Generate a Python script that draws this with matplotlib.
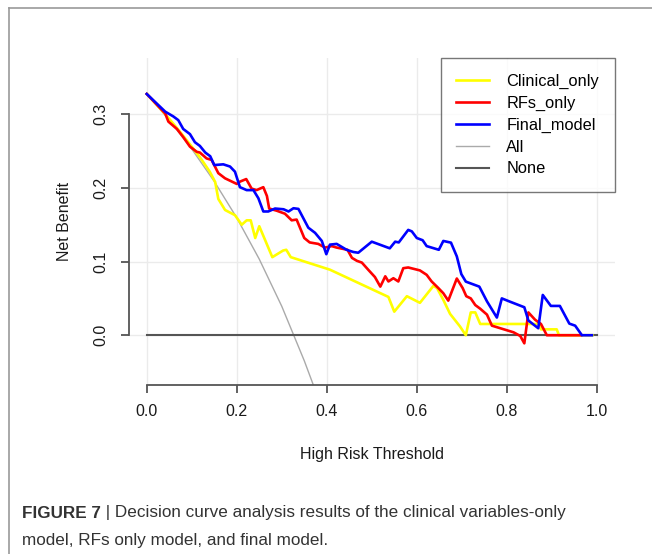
import matplotlib
matplotlib.use("Agg")
import matplotlib.pyplot as plt
from matplotlib.lines import Line2D

plt.rcParams['font.family'] = ['Liberation Sans', 'DejaVu Sans']

# threshold / net benefit
clin_x = [0, 0.04, 0.07, 0.1, 0.12, 0.14, 0.152, 0.159, 0.174, 0.196, 0.211, 0.222, 0.231,
          0.241, 0.25, 0.279, 0.303, 0.31, 0.32, 0.407, 0.537, 0.55, 0.578, 0.607, 0.637,
          0.645, 0.659, 0.674, 0.696, 0.709, 0.72, 0.73, 0.741, 0.874, 0.876, 0.911, 0.916, 0.99]
clin_y = [0.3275, 0.301, 0.279, 0.256, 0.240, 0.222, 0.208, 0.185, 0.170, 0.163, 0.150, 0.156, 0.156,
          0.132, 0.148, 0.106, 0.115, 0.116, 0.106, 0.089, 0.052, 0.032, 0.053, 0.044, 0.067,
          0.064, 0.048, 0.029, 0.012, 0.0, 0.031, 0.031, 0.0153, 0.0153, 0.008, 0.008, 0.0, 0.0]

rfs_x = [0, 0.041, 0.048, 0.067, 0.081, 0.096, 0.111, 0.118, 0.133, 0.144, 0.159, 0.174, 0.2,
         0.207, 0.221, 0.233, 0.244, 0.259, 0.267, 0.272, 0.289, 0.307, 0.322, 0.333, 0.35,
         0.362, 0.381, 0.396, 0.411, 0.422, 0.446, 0.456, 0.467, 0.478, 0.492, 0.507, 0.519,
         0.53, 0.537, 0.548, 0.559, 0.57, 0.581, 0.607, 0.622, 0.633, 0.648, 0.659, 0.67,
         0.689, 0.702, 0.71, 0.72, 0.73, 0.741, 0.756, 0.767, 0.815, 0.83, 0.839, 0.848,
         0.863, 0.876, 0.889, 0.965]
rfs_y = [0.3275, 0.301, 0.290, 0.280, 0.269, 0.256, 0.249, 0.248, 0.240, 0.238, 0.220, 0.213, 0.2054,
         0.2085, 0.212, 0.199, 0.197, 0.201, 0.189, 0.172, 0.169, 0.165, 0.156, 0.157, 0.132,
         0.126, 0.124, 0.119, 0.121, 0.119, 0.116, 0.105, 0.101, 0.0986, 0.089, 0.079, 0.066,
         0.080, 0.073, 0.0774, 0.073, 0.091, 0.092, 0.088, 0.082, 0.073, 0.064, 0.057, 0.047,
         0.077, 0.064, 0.053, 0.050, 0.041, 0.036, 0.028, 0.013, 0.004, -0.001, -0.011, 0.031,
         0.021, 0.0153, 0.0, 0.0]

fin_x = [0, 0.041, 0.059, 0.07, 0.081, 0.096, 0.107, 0.118, 0.13, 0.141, 0.150, 0.17, 0.185,
         0.196, 0.207, 0.222, 0.237, 0.248, 0.259, 0.27, 0.285, 0.304, 0.315, 0.326, 0.337,
         0.359, 0.374, 0.389, 0.399, 0.407, 0.422, 0.444, 0.459, 0.47, 0.5, 0.54, 0.552, 0.56,
         0.581, 0.589, 0.6, 0.613, 0.622, 0.649, 0.659, 0.676, 0.689, 0.699, 0.709, 0.739,
         0.756, 0.778, 0.789, 0.807, 0.839, 0.848, 0.87, 0.88, 0.898, 0.918, 0.939, 0.952,
         0.967, 0.989]
fin_y = [0.3275, 0.3035, 0.297, 0.292, 0.280, 0.273, 0.262, 0.257, 0.248, 0.243, 0.231, 0.232, 0.229,
         0.222, 0.201, 0.197, 0.197, 0.186, 0.168, 0.168, 0.172, 0.171, 0.168, 0.1724, 0.1715,
         0.146, 0.139, 0.128, 0.11, 0.123, 0.124, 0.116, 0.113, 0.112, 0.127, 0.118, 0.127, 0.126,
         0.143, 0.141, 0.132, 0.129, 0.121, 0.116, 0.128, 0.1257, 0.107, 0.083, 0.0728, 0.066,
         0.046, 0.024, 0.05, 0.0456, 0.038, 0.02, 0.0095, 0.0547, 0.0398, 0.0398, 0.0158, 0.013,
         0.0, 0.0]

all_x = [0, 0.05, 0.1, 0.15, 0.2, 0.25, 0.3, 0.35, 0.37]
all_y = [0.3275, 0.2921, 0.2528, 0.2088, 0.1594, 0.1033, 0.0393, -0.0346, -0.0673]

none_x = [0, 1]
none_y = [0, 0]

fig = plt.figure(figsize=(6.52, 5.54), dpi=100)
ax = fig.add_axes([0.1975, 0.3051, 0.7454, 0.5903])

ax.plot(clin_x, clin_y, color='#ffff00', lw=1.9, label='Clinical_only', zorder=3)
ax.plot(rfs_x, rfs_y, color='#ff0000', lw=1.9, label='RFs_only', zorder=4)
ax.plot(fin_x, fin_y, color='#0000ff', lw=1.9, label='Final_model', zorder=5)
ax.plot(all_x, all_y, color='#aaaaaa', lw=1.0, label='All', zorder=2)
ax.plot(none_x, none_y, color='#555555', lw=1.5, label='None', zorder=2)

ax.set_xlim(-0.04, 1.04)
ax.set_ylim(-0.0675, 0.3764)
ax.set_xticks([0, 0.2, 0.4, 0.6, 0.8, 1.0])
ax.set_xticklabels(['0.0', '0.2', '0.4', '0.6', '0.8', '1.0'])
ax.set_yticks([0, 0.1, 0.2, 0.3])
ax.set_yticklabels(['0.0', '0.1', '0.2', '0.3'], rotation=90, va='center')
ax.grid(True, color='#ebebeb', lw=1.0, zorder=0)

for s in ['top', 'right']:
    ax.spines[s].set_visible(False)
ax.spines['left'].set_bounds(0, 0.3)
ax.spines['bottom'].set_bounds(0, 1)
for s in ['left', 'bottom']:
    ax.spines[s].set_color('#555555')
    ax.spines[s].set_linewidth(1.3)
ax.tick_params(axis='both', colors='#555555', length=6, width=1.3, labelsize=11.5,
               labelcolor='#1a1a1a')
ax.tick_params(axis='x', pad=8)
ax.tick_params(axis='y', pad=9)

ax.set_xlabel('High Risk Threshold', fontsize=11.5, labelpad=20, color='#1a1a1a')
ax.set_ylabel('Net Benefit', fontsize=11.5, labelpad=15, color='#1a1a1a')

leg = ax.legend(loc='upper right', bbox_to_anchor=(1, 1), borderaxespad=0, fontsize=11.8,
                frameon=True, fancybox=False, edgecolor='#555555', handlelength=2.0,
                handletextpad=1.05, labelspacing=0.42, borderpad=0.95)
leg.get_frame().set_linewidth(1.0)

# page border lines
fig.add_artist(Line2D([9 / 652, 1], [1 - 8 / 554, 1 - 8 / 554], transform=fig.transFigure,
                      color='#999999', lw=1.2))
fig.add_artist(Line2D([9 / 652, 9 / 652], [0, 1 - 8 / 554], transform=fig.transFigure,
                      color='#999999', lw=1.2))

# caption
cap_size = 12.3
cap_bold = fig.text(22 / 652, 1 - 513 / 554, 'FIGURE 7', fontsize=cap_size, fontweight='bold',
                    color='#333333', va='center', ha='left')
fig.canvas.draw()
bb = cap_bold.get_window_extent(fig.canvas.get_renderer())
x2 = bb.x1 / fig.bbox.width
fig.text(x2, 1 - 513 / 554, ' | Decision curve analysis results of the clinical variables-only',
         fontsize=cap_size, color='#333333', va='center', ha='left')
fig.text(22 / 652, 1 - 540 / 554, 'model, RFs only model, and final model.', fontsize=cap_size,
         color='#333333', va='center', ha='left')

fig.savefig('out.png', dpi=100)
